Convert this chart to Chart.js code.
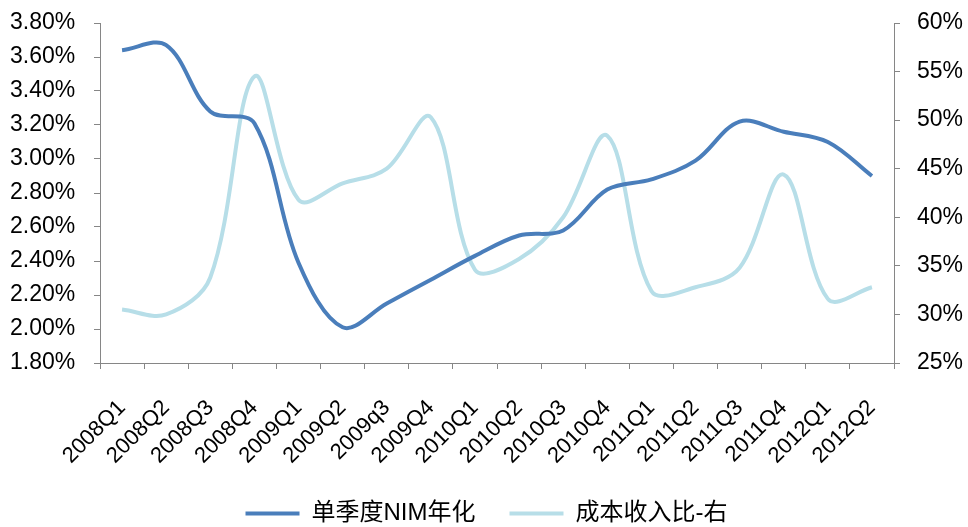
<!DOCTYPE html>
<html>
<head>
<meta charset="utf-8">
<script src="https://cdn.jsdelivr.net/npm/chart.js@4"></script>
<style>
  html, body { margin: 0; padding: 0; background: #fff; }
  #wrap { width: 968px; height: 527px; }
</style>
</head>
<body>
<div id="wrap"><canvas id="c" width="968" height="527"></canvas></div>
<script>
// quarters on the x axis
const quarters = ['2008Q1', '2008Q2', '2008Q3', '2008Q4', '2009Q1', '2009Q2', '2009q3', '2009Q4',
  '2010Q1', '2010Q2', '2010Q3', '2010Q4', '2011Q1', '2011Q2', '2011Q3', '2011Q4', '2012Q1', '2012Q2'];
// 单季度NIM年化 (%), left axis
const nim = [3.64, 3.67, 3.28, 3.21, 2.39, 2.01, 2.15, 2.29, 2.43, 2.55, 2.58, 2.82, 2.88, 2.99, 3.22, 3.16, 3.10, 2.90];
// 成本收入比 (%), right axis
const costRatio = [30.5, 30.0, 33.8, 54.5, 41.8, 43.5, 45.0, 50.3, 34.6, 35.7, 40.0, 48.4, 32.4, 32.8, 34.8, 44.4, 31.6, 32.8];
const seriesNames = ['单季度NIM年化', '成本收入比-右'];

const axisGrey = '#868686';
const fontFam = '"Liberation Sans", Arial, "Noto Sans CJK SC", sans-serif';

new Chart(document.getElementById('c'), {
  type: 'line',
  data: {
    labels: quarters,
    datasets: [
      {
        label: seriesNames[0],
        data: nim,
        yAxisID: 'y',
        borderColor: '#4a7ebb',
        backgroundColor: '#4a7ebb',
        borderWidth: 4,
        pointRadius: 0,
        tension: 0.35,
        fill: false
      },
      {
        label: seriesNames[1],
        data: costRatio,
        yAxisID: 'y2',
        borderColor: '#b7dee8',
        backgroundColor: '#b7dee8',
        borderWidth: 4,
        pointRadius: 0,
        tension: 0.35,
        fill: false
      }
    ]
  },
  options: {
    responsive: false,
    animation: false,
    layout: { padding: { top: 23, left: 10, right: 5, bottom: -8.5 } },
    plugins: {
      tooltip: { enabled: false },
      legend: {
        position: 'bottom',
        labels: {
          usePointStyle: true,
          pointStyle: 'line',
          pointStyleWidth: 54,
          padding: 34,
          color: '#000',
          font: { family: fontFam, size: 24 }
        }
      }
    },
    scales: {
      x: {
        offset: true,
        grid: { display: true, drawOnChartArea: false, offset: true, color: axisGrey, tickLength: 6 },
        border: { display: true, color: axisGrey, width: 1 },
        ticks: {
          color: '#000',
          font: { family: fontFam, size: 22 },
          minRotation: 45,
          maxRotation: 45,
          autoSkip: false,
          padding: 26
        },
        afterFit: s => { s.height = 104.5; }
      },
      y: {
        position: 'left',
        min: 1.8,
        max: 3.8,
        ticks: {
          stepSize: 0.2,
          color: '#000',
          padding: 0,
          crossAlign: 'far',
          font: { family: fontFam, size: 23 },
          callback: v => v.toFixed(2) + '%'
        },
        grid: { drawOnChartArea: false, color: axisGrey, tickLength: 6 },
        border: { display: true, color: axisGrey, width: 1 },
        afterFit: s => { s.width = 90; }
      },
      y2: {
        position: 'right',
        min: 25,
        max: 60,
        ticks: {
          stepSize: 5,
          color: '#000',
          padding: 0,
          crossAlign: 'far',
          font: { family: fontFam, size: 23 },
          callback: v => v + '%'
        },
        grid: { drawOnChartArea: false, color: axisGrey, tickLength: 6 },
        border: { display: true, color: axisGrey, width: 1 },
        afterFit: s => { s.width = 69; }
      }
    }
  }
});
</script>
</body>
</html>
